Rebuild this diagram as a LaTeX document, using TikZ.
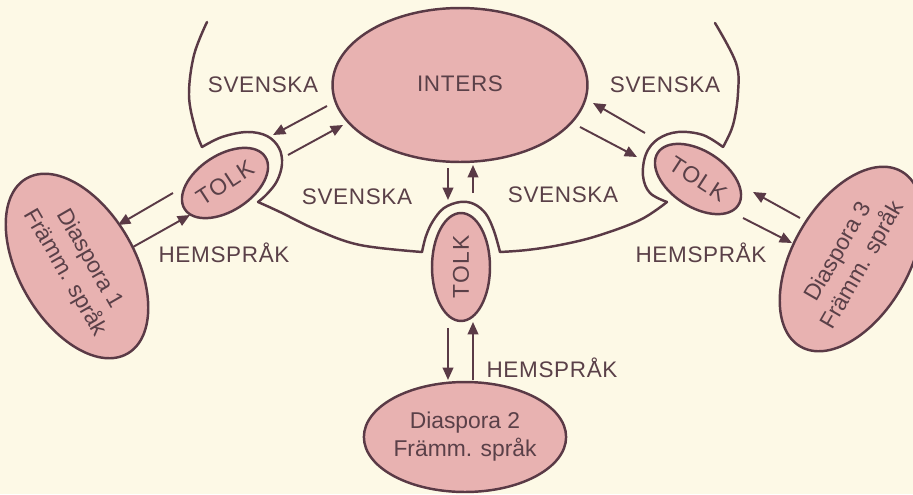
\documentclass[tikz,border=0pt]{standalone}
\usepackage{fontspec}
\setmainfont{Liberation Sans}
\usetikzlibrary{shapes.geometric,arrows.meta}
\definecolor{bg}{HTML}{FDF9E6}
\definecolor{pinkfill}{HTML}{E8B2B1}
\definecolor{edge}{HTML}{5A3A46}
\definecolor{ink}{HTML}{5A4048}
\begin{document}
\begin{tikzpicture}[x=0.02cm,y=-0.02cm,
  blob/.style={ellipse, draw=edge, fill=pinkfill, line width=1.4pt, inner sep=0pt, text=ink,
    font=\fontsize{13}{16}\selectfont, align=center},
  tolktext/.style={font=\fontsize{13}{15}\selectfont\addfontfeature{LetterSpace=6}},
  lab/.style={text=ink, inner sep=0pt, font=\fontsize{12.8}{15}\selectfont\addfontfeature{LetterSpace=3}},
  conn/.style={draw=edge, line width=1.1pt, -{Triangle[length=7pt,width=6pt]}},
  bound/.style={draw=edge, line width=1.4pt, line join=round, line cap=round}]
\fill[bg] (0,0) rectangle (913,494);
\useasboundingbox (0,0) rectangle (913,494);

% boundary lines
\draw[bound] plot[smooth, tension=0.6] coordinates {(207,22) (194,55) (189,95) (195,128) (202,147)};
\draw[bound] plot[smooth, tension=0.6] coordinates {(202,147) (222,137) (247,132) (267,136) (279,148) (282,164) (277,181) (267,194) (258,202)};
\draw[bound] plot[smooth, tension=0.6] coordinates {(258,202) (280,212) (317,230) (360,245) (422,252)};
\draw[bound] plot[smooth, tension=0.6] coordinates {(422,252) (426,236) (433,221) (444,208) (460,202) (474,204) (486,214) (494,231) (500,252)};
\draw[bound] plot[smooth, tension=0.6] coordinates {(500,252) (527,250) (560,245) (597,236) (640,220) (667,202)};
\draw[bound] plot[smooth, tension=0.6] coordinates {(667,202) (650,193) (643,176) (646,154) (658,139) (678,132) (703,135) (723,147)};
\draw[bound] plot[smooth, tension=0.6] coordinates {(723,147) (733,125) (738,93) (736,63) (715,23)};

% nodes
\node[blob, minimum width=5.1cm, minimum height=3.08cm] (inters) at (460,85) {};
\node[lab] (intersl) at (460,84) {INTERS};
\node[blob, tolktext, minimum width=1.92cm, minimum height=1.12cm, rotate=33] (tolkA) at (225,183) {TOLK};
\node[blob, tolktext, minimum width=2.16cm, minimum height=1.16cm, rotate=90] (tolkB) at (461,267) {TOLK};
\node[blob, tolktext, minimum width=1.92cm, minimum height=1.12cm, rotate=-33] (tolkC) at (698,179) {TOLK};
\node[blob, minimum width=3.68cm, minimum height=2.32cm, rotate=-60] (diaA) at (77,266) {Diaspora 1\\Främm. språk};
\node[blob, minimum width=3.6cm, minimum height=2.2cm] (diaB) at (465,437) {Diaspora 2\\Främm. språk};
\node[blob, minimum width=3.68cm, minimum height=2.32cm, rotate=60] (diaC) at (851,259) {Diaspora 3\\Främm. språk};

% labels
\node[lab] (sv1) at (263,85) {SVENSKA};
\node[lab] (sv2) at (357,197) {SVENSKA};
\node[lab] (sv3) at (665,85) {SVENSKA};
\node[lab] (sv4) at (563,195) {SVENSKA};
\node[lab] (hs1) at (224,253) {HEMSPRÅK};
\node[lab] (hs2) at (552,368) {HEMSPRÅK};
\node[lab] (hs3) at (701,253) {HEMSPRÅK};

% arrow end points
\coordinate (a1s) at (327,106); \coordinate (a1e) at (273,135);
\coordinate (a2s) at (288,155); \coordinate (a2e) at (343,125);
\coordinate (a3s) at (173,193); \coordinate (a3e) at (118,225);
\coordinate (a4s) at (133,247); \coordinate (a4e) at (190,215);
\coordinate (a5s) at (448,168); \coordinate (a5e) at (448,200);
\coordinate (a6s) at (473,193); \coordinate (a6e) at (473,165);
\coordinate (a7s) at (448,328); \coordinate (a7e) at (448,380);
\coordinate (a8s) at (473,380); \coordinate (a8e) at (473,322);
\coordinate (a9s) at (645,133); \coordinate (a9e) at (593,103);
\coordinate (a10s) at (580,127); \coordinate (a10e) at (637,157);
\coordinate (a11s) at (800,218); \coordinate (a11e) at (753,192);
\coordinate (a12s) at (743,218); \coordinate (a12e) at (792,243);

\foreach \i in {1,...,12} {\draw[conn] (a\i s) -- (a\i e);}
\end{tikzpicture}
\end{document}
